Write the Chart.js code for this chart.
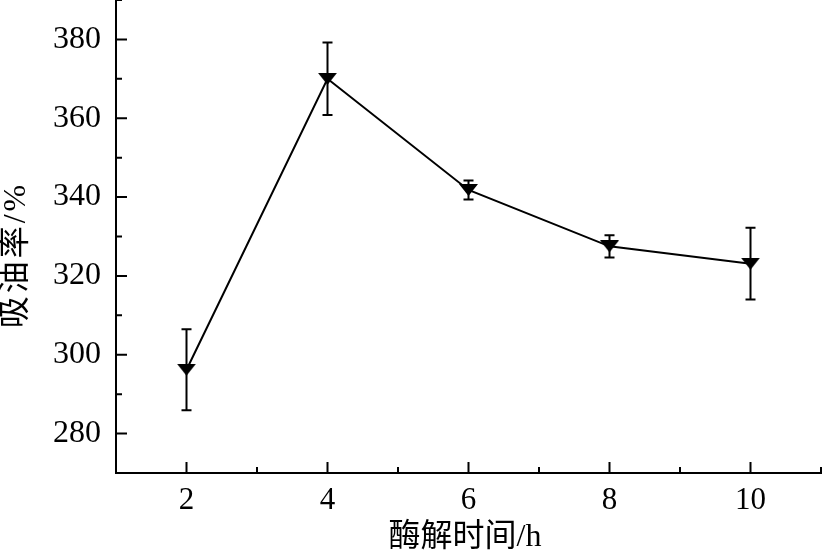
<!DOCTYPE html>
<html>
<head>
<meta charset="utf-8">
<script src="https://cdn.jsdelivr.net/npm/chart.js@4.4.0/dist/chart.umd.min.js"></script>
<style>
  html, body { margin: 0; padding: 0; background: #fff; }
  #wrap { width: 826px; height: 556px; }
</style>
</head>
<body>
<div id="wrap"><canvas id="chart" width="826" height="556"></canvas></div>
<script>
// data
const hours = [2, 4, 6, 8, 10];
const oilAbs = [296.2, 370.0, 341.8, 327.5, 323.1];
const oilErr = [10.3, 9.2, 2.4, 2.8, 9.1];
const xTicks = [2, 4, 6, 8, 10];
const xMinor = [3, 5, 7, 9, 11];
const yTicks = [280, 300, 320, 340, 360, 380];
const yMinor = [290, 310, 330, 350, 370, 390];
const xTitle = '酶解时间/h';
const yTitle = '吸油率/%';

const TITLE_FONT = '32px "Liberation Serif", "Noto Sans CJK SC", serif';

// flattened down-pointing triangle marker
function makeMarker(){
  const c = document.createElement('canvas');
  c.width = 19; c.height = 12;
  const g = c.getContext('2d');
  g.fillStyle = '#000';
  g.beginPath();
  g.moveTo(0, 0); g.lineTo(19, 0); g.lineTo(9.5, 12); g.closePath();
  g.fill();
  return c;
}

// error bars, inward ticks and axis titles
const extras = {
  id: 'extras',
  afterDatasetsDraw(chart){
    const ctx = chart.ctx;
    const xs = chart.scales.x, ys = chart.scales.y;
    ctx.save();
    ctx.strokeStyle = '#000';
    ctx.lineWidth = 2;
    hours.forEach((h, i)=>{
      const px = xs.getPixelForValue(h);
      const top = ys.getPixelForValue(oilAbs[i] + oilErr[i]);
      const bot = ys.getPixelForValue(oilAbs[i] - oilErr[i]);
      ctx.beginPath();
      ctx.moveTo(px, top); ctx.lineTo(px, bot);
      ctx.moveTo(px - 5, top); ctx.lineTo(px + 5, top);
      ctx.moveTo(px - 5, bot); ctx.lineTo(px + 5, bot);
      ctx.stroke();
    });
    ctx.restore();
  },
  afterDraw(chart){
    const ctx = chart.ctx;
    const xs = chart.scales.x, ys = chart.scales.y;
    const a = chart.chartArea;
    ctx.save();
    ctx.strokeStyle = '#000';
    ctx.lineWidth = 2;
    ctx.beginPath();
    xTicks.forEach(v=>{ const p = xs.getPixelForValue(v); ctx.moveTo(p, a.bottom); ctx.lineTo(p, a.bottom - 11); });
    xMinor.forEach(v=>{ const p = xs.getPixelForValue(v); ctx.moveTo(p, a.bottom); ctx.lineTo(p, a.bottom - 6); });
    yTicks.forEach(v=>{ const p = ys.getPixelForValue(v); ctx.moveTo(a.left, p); ctx.lineTo(a.left + 11, p); });
    yMinor.forEach(v=>{ const p = ys.getPixelForValue(v); ctx.moveTo(a.left, p); ctx.lineTo(a.left + 6, p); });
    ctx.stroke();

    ctx.fillStyle = '#000';
    ctx.font = TITLE_FONT;
    ctx.textAlign = 'center';
    ctx.textBaseline = 'middle';
    ctx.fillText(xTitle, 465, 538);
    ctx.translate(17, 255);
    ctx.rotate(-Math.PI / 2);
    ctx.letterSpacing = '3px';
    ctx.fillText(yTitle, 0, 0);
    ctx.restore();
  }
};

const ctx = document.getElementById('chart').getContext('2d');
new Chart(ctx, {
  type: 'line',
  data: {
    datasets: [{
      data: hours.map((h, i)=>({x: h, y: oilAbs[i]})),
      borderColor: '#000',
      borderWidth: 2,
      pointStyle: makeMarker(),
      tension: 0,
      fill: false
    }]
  },
  options: {
    responsive: false,
    animation: false,
    devicePixelRatio: 1,
    layout: { autoPadding: false, padding: { left: 0, right: 5, top: 0, bottom: 0 } },
    plugins: { legend: { display: false }, tooltip: { enabled: false } },
    scales: {
      x: {
        type: 'linear', min: 1, max: 11,
        grid: { display: false, drawTicks: false },
        border: { display: true, color: '#000', width: 2 },
        ticks: { color: '#000', font: { family: '"Liberation Serif", serif', size: 31 }, padding: 9 },
        afterBuildTicks: s=>{ s.ticks = xTicks.map(v=>({value: v})); },
        afterFit: s=>{ s.height = 83; s.paddingLeft = 0; s.paddingRight = 0; }
      },
      y: {
        type: 'linear', min: 270, max: 390,
        grid: { display: false, drawTicks: false },
        border: { display: true, color: '#000', width: 2 },
        ticks: { color: '#000', font: { family: '"Liberation Serif", serif', size: 32 }, padding: 15 },
        afterBuildTicks: s=>{ s.ticks = yTicks.map(v=>({value: v})); },
        afterFit: s=>{ s.width = 116; s.paddingTop = 0; s.paddingBottom = 0; }
      }
    }
  },
  plugins: [extras]
});
</script>
</body>
</html>
